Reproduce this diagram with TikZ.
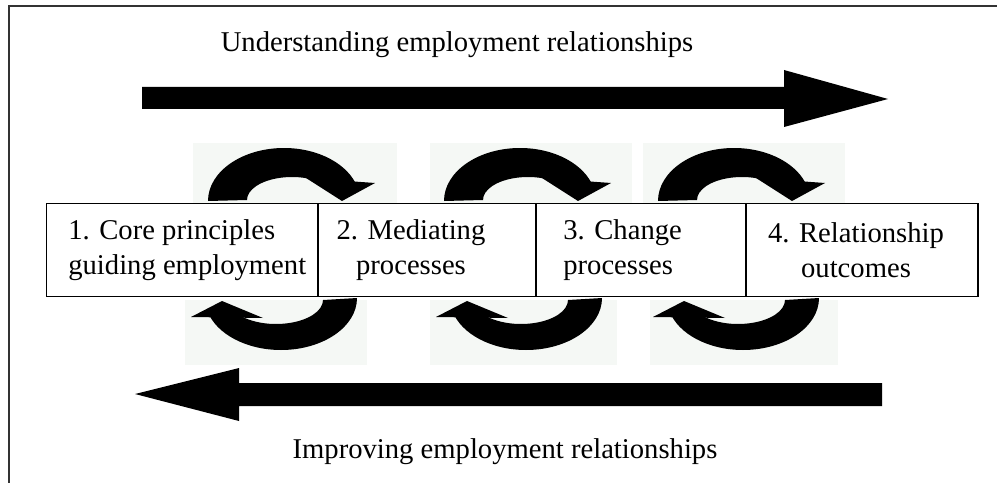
\documentclass[tikz,border=0pt]{standalone}
\usepackage{fontspec}
\setmainfont{Liberation Serif}

\definecolor{patch}{RGB}{245,248,245}

\begin{document}
\begin{tikzpicture}[x=0.02cm, y=-0.02cm, font=\fontsize{16.3}{20}\selectfont,
    boxnode/.style={draw, line width=0.6pt, fill=white, minimum height=1.86cm, inner sep=0pt},
    label/.style={inner sep=0pt, align=#1}]
        \useasboundingbox (0,0) rectangle (997,483);

        % Frame, open at the bottom and right
        \draw[line width=0.8pt, black!80] (997,6) -- (9,6) -- (9,483);

        % Faint patches behind the cycle arrows
        \foreach \a/\b/\c/\d in {193/397/185/367, 430/632/430/617, 643/845/650/838} {
            \fill[patch] (\a,143) rectangle (\b,203);
            \fill[patch] (\c,300) rectangle (\d,365);
        }

        % Cycle arrows above and below the boxes (tapering bands + heads)
        \foreach \ct/\cb in {284/281, 520/526, 734/743} {
            \fill ({\ct-76},201) arc[start angle=180, end angle=345, x radius=76, y radius=53]
                -- ({\ct+8+45*cos(345)},{200+23*sin(345)})
                arc[start angle=345, end angle=180, x radius=45, y radius=23] -- cycle;
            \fill ({\ct+22},178) -- ({\ct+91},183) -- ({\ct+58},201) -- cycle;
            \fill ({\cb+76},298) arc[start angle=0, end angle=165, x radius=76, y radius=52]
                -- ({\cb-5+47*cos(165)},{300+24*sin(165)})
                arc[start angle=165, end angle=0, x radius=47, y radius=24] -- cycle;
            \fill ({\cb-90},317) -- ({\cb-59},301) -- ({\cb-18},318) -- cycle;
        }

        % Block arrows
        \fill (142,87) -- (784,87) -- (784,70) -- (888,99) -- (784,127) -- (784,109) -- (142,109) -- cycle;
        \fill (882,383) -- (239,383) -- (239,368) -- (135,394) -- (239,421) -- (239,406) -- (882,406) -- cycle;
        \node (under) at (457,45) {Understanding employment relationships};
        \node (improve) at (505,452) {Improving employment relationships};

        % The four stages
        \foreach \i/\x/\w in {1/182/5.44cm, 2/427/4.36cm, 3/641/4.2cm, 4/862/4.64cm} {
            \node[boxnode, minimum width=\w] (box\i) at (\x,250) {};
        }
        \node[label=left, anchor=west] (t1) at (68,250) {1. Core principles\\guiding employment};
        \node[label=center] (t2) at (411,250) {2. Mediating\\processes};
        \node[label=left, anchor=west] (t3) at (563,250) {3. Change\\processes};
        \node[label=center] (t4) at (856,250) {4. Relationship\\outcomes};

        \end{tikzpicture}
\end{document}
